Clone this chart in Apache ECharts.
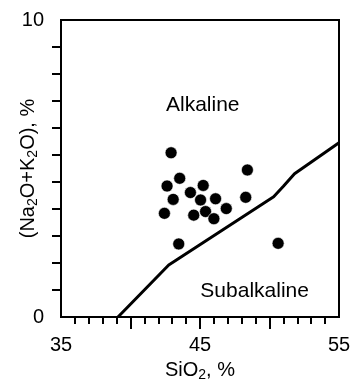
<!DOCTYPE html>
<html><head><meta charset="utf-8">
<script src="https://cdn.jsdelivr.net/npm/echarts@6/dist/echarts.min.js"></script>
<style>html,body{margin:0;padding:0;background:#fff}#c{width:353px;height:382px}</style>
</head><body><div id="c"></div>
<script>
const sio2   = [42.92, 48.41, 43.54, 42.63, 45.23, 44.31, 43.07, 45.04, 46.12, 48.29, 42.44, 44.55, 45.40, 46.00, 46.89, 43.47, 50.62];
const alkali = [5.53, 4.95, 4.67, 4.41, 4.43, 4.19, 3.96, 3.94, 3.98, 4.03, 3.49, 3.43, 3.55, 3.31, 3.65, 2.46, 2.48];
const boundaryX = [39.1, 42.75, 50.3, 51.0, 51.8, 55];
const boundaryY = [0, 1.75, 4.05, 4.4, 4.82, 5.87];
const xLabelValues = [35, 45, 55];
const xMajorTicks = [40, 45, 50];
const xMinorTicks = [36, 37, 38, 39, 41, 42, 43, 44, 46, 47, 48, 49, 51, 52, 53, 54];
const yLabelValues = [0, 10];
const yTicks = [0.909, 1.818, 2.727, 3.636, 4.545, 5.455, 6.364, 7.273, 8.182, 9.091];
const regionNames = ['Alkaline', 'Subalkaline'];
const regionX = [45.2, 48.93];
const regionY = [7.14, 0.88];

const FONT = '"Liberation Sans", Arial, sans-serif';
const rich = {
  n: {fontSize: 20, fontFamily: FONT, color: '#000', lineHeight: 23},
  s: {fontSize: 14, fontFamily: FONT, color: '#000', lineHeight: 14, verticalAlign: 'bottom'}
};
const chart = echarts.init(document.getElementById('c'), null, {renderer: 'canvas'});
chart.setOption({
  animation: false,
  grid: {left: 61, right: 14, top: 20, bottom: 65, show: true, borderColor: '#000', borderWidth: 2, containLabel: false, outerBoundsMode: 'none'},
  xAxis: [{
    type: 'value', min: 35, max: 55, position: 'bottom',
    axisLine: {show: true, lineStyle: {color: '#000', width: 2}},
    axisTick: {show: true, inside: false, length: 12, lineStyle: {color: '#000', width: 2}, customValues: xMajorTicks},
    axisLabel: {show: true, margin: 18, fontSize: 20, fontFamily: FONT, color: '#000', customValues: xLabelValues},
    splitLine: {show: false},
    name: '{n|SiO}{s|2}{n|, %}', nameLocation: 'middle', nameGap: 42, nameMoveOverlap: false,
    nameTextStyle: {rich: rich}
  }, {
    type: 'value', min: 35, max: 55, position: 'bottom', offset: 0,
    axisLine: {show: false},
    axisTick: {show: true, inside: false, length: 7, lineStyle: {color: '#000', width: 2}, customValues: xMinorTicks},
    axisLabel: {show: false},
    splitLine: {show: false}
  }],
  yAxis: {
    type: 'value', min: 0, max: 10,
    axisLine: {show: true, lineStyle: {color: '#000', width: 2}},
    axisTick: {show: true, inside: false, length: 9, lineStyle: {color: '#000', width: 2}, customValues: yTicks},
    axisLabel: {show: true, margin: 17, fontSize: 20, fontFamily: FONT, color: '#000', customValues: yLabelValues},
    splitLine: {show: false},
    name: '{n|(Na}{s|2}{n|O+K}{s|2}{n|O), %}', nameLocation: 'middle', nameGap: 21, nameRotate: 90, nameMoveOverlap: false,
    nameTextStyle: {rich: rich}
  },
  series: [{
    type: 'line', xAxisIndex: 0,
    data: boundaryX.map((x, i) => [x, boundaryY[i]]),
    showSymbol: false, symbol: 'none', smooth: false,
    lineStyle: {color: '#000', width: 3, opacity: 1, join: 'round'}, z: 3
  }, {
    type: 'scatter', xAxisIndex: 0,
    data: sio2.map((x, i) => [x, alkali[i]]),
    symbol: 'circle', symbolSize: 12,
    itemStyle: {color: '#000', opacity: 1, borderColor: '#fff', borderWidth: 0.6}, z: 4
  }, {
    type: 'scatter', xAxisIndex: 0,
    data: regionNames.map((n, i) => ({name: n, value: [regionX[i], regionY[i]]})),
    symbolSize: 0,
    label: {show: true, position: 'inside', formatter: p => p.name, fontSize: 21, fontFamily: FONT, color: '#000', opacity: 1},
    z: 5
  }]
});
</script></body></html>
